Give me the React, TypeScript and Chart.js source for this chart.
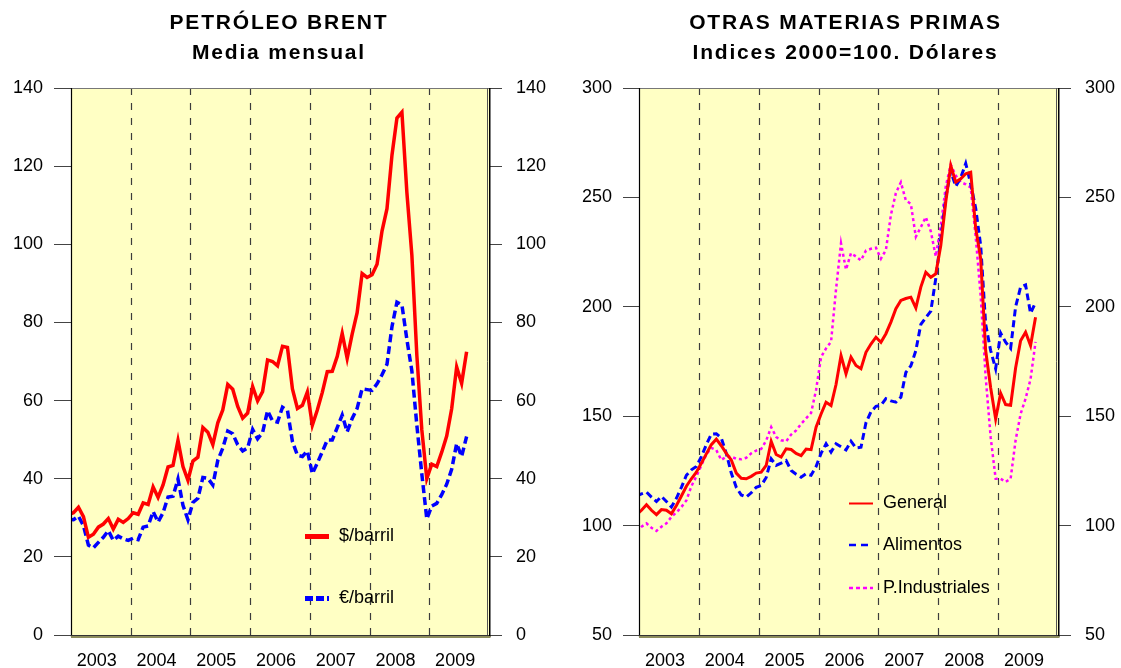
import React, { useEffect, useRef } from 'react';
import { Chart, registerables } from 'chart.js';

Chart.register(...registerables);

// ---------- data (monthly, Dec 2002 .. Aug 2009) ----------
const YEARS = ['2003', '2004', '2005', '2006', '2007', '2008', '2009'];
const YEAR_MID_MONTHS = [6, 18, 30, 42, 54, 66, 78];
const YEAR_START_MONTHS = [12, 24, 36, 48, 60, 72];

const BRENT_USD = [
  30.8,
  31.3, 32.7, 30.3, 25.0, 25.8, 27.6, 28.4, 29.8, 27.1, 29.6, 28.8, 29.8,
  31.3, 30.9, 33.8, 33.4, 37.9, 35.2, 38.4, 43.0, 43.4, 49.8, 43.1, 39.6,
  44.5, 45.5, 53.1, 51.9, 48.7, 54.3, 57.6, 64.1, 62.9, 58.5, 55.5, 56.8,
  63.6, 59.9, 62.3, 70.4, 70.0, 68.9, 73.9, 73.6, 63.0, 58.0, 58.8, 62.2,
  53.7, 57.6, 62.1, 67.4, 67.5, 71.3, 77.2, 70.8, 77.0, 82.5, 92.5, 91.5,
  92.2, 94.9, 103.4, 109.1, 122.8, 132.3, 133.8, 113.2, 97.2, 71.6, 52.5, 40.0,
  43.7, 43.1, 46.8, 50.9, 57.9, 68.6, 64.4, 72.5,
];

const BRENT_EUR = [
  29.6,
  29.5, 30.4, 28.0, 23.0, 22.3, 23.7, 25.0, 26.7, 24.2, 25.3, 24.6, 24.2,
  24.8, 24.4, 27.6, 27.9, 31.6, 28.9, 31.3, 35.3, 35.5, 39.9, 33.2, 29.5,
  33.9, 35.0, 40.3, 40.1, 38.4, 44.7, 47.8, 52.2, 51.5, 48.7, 47.1, 47.9,
  52.6, 50.2, 51.8, 57.4, 54.8, 54.5, 58.3, 57.5, 49.5, 46.0, 45.7, 47.1,
  41.3, 44.0, 46.9, 49.9, 49.9, 53.1, 56.3, 52.0, 55.4, 58.0, 63.0, 62.8,
  62.6, 64.3, 66.6, 69.3, 78.9, 85.2, 84.5, 75.6, 67.6, 53.7, 41.2, 29.7,
  33.0, 33.7, 35.9, 38.6, 42.4, 49.0, 45.7, 50.8,
];

const GENERAL = [
  105.0,
  107.0, 109.5, 107.0, 105.0, 107.3, 107.0, 105.4, 109.2, 113.5, 118.0, 121.4, 124.4,
  128.5, 132.8, 137.0, 139.5, 136.5, 133.0, 130.0, 124.0, 121.6, 121.4, 122.5, 124.0,
  124.4, 127.5, 138.5, 132.5, 131.3, 135.1, 134.8, 133.0, 132.0, 135.0, 134.7, 145.0,
  151.0, 156.4, 154.9, 164.5, 177.7, 169.4, 177.0, 173.2, 171.7, 179.2, 183.0, 186.1,
  183.8, 187.7, 193.0, 199.1, 202.9, 203.8, 204.4, 199.5, 209.0, 215.8, 213.5, 215.1,
  228.0, 248.0, 264.6, 257.0, 258.5, 260.8, 261.5, 236.0, 222.0, 180.0, 163.0, 148.8,
  160.5, 155.3, 155.0, 172.0, 184.5, 188.4, 182.3, 195.2,
];

const ALIMENTOS = [
  113.5,
  114.5, 115.3, 113.0, 111.0, 113.3, 111.0, 108.5, 112.5, 117.5, 123.0, 125.5, 127.0,
  131.5, 137.0, 141.8, 142.0, 140.0, 133.0, 124.0, 117.5, 114.0, 113.0, 115.0, 117.5,
  118.3, 122.0, 130.5, 127.5, 128.5, 129.7, 125.2, 123.5, 122.1, 123.7, 123.0, 127.0,
  133.0, 137.4, 133.6, 137.4, 136.0, 134.6, 138.6, 135.5, 135.8, 147.0, 152.0, 154.5,
  155.0, 158.0, 157.0, 156.4, 158.7, 170.0, 173.0, 180.0, 192.0, 195.0, 198.0, 213.0,
  231.0, 250.0, 262.0, 255.0, 259.0, 265.5, 256.2, 245.0, 228.0, 192.0, 180.0, 171.7,
  188.0, 183.8, 181.0, 200.0, 209.0, 210.0, 197.0, 202.0,
];

const INDUSTRIALES = [
  97.5,
  99.5, 101.0, 99.0, 97.6, 99.5, 101.0, 104.0, 106.0, 108.5, 111.5, 118.0, 122.5,
  127.5, 132.5, 135.5, 134.5, 130.0, 131.5, 131.5, 130.5, 130.3, 131.0, 133.0, 134.3,
  135.0, 138.9, 145.0, 140.5, 139.0, 138.5, 141.6, 143.5, 146.5, 149.0, 151.5, 162.0,
  177.0, 181.0, 184.0, 208.0, 229.0, 217.0, 224.5, 223.0, 221.2, 225.7, 226.5, 227.0,
  222.0, 226.0, 242.0, 252.0, 256.9, 248.6, 247.0, 232.0, 236.4, 241.0, 234.5, 223.0,
  237.0, 255.0, 265.0, 260.0, 257.0, 256.0, 254.5, 232.0, 205.0, 168.0, 140.4, 121.4,
  121.4, 120.0, 121.4, 139.0, 151.0, 158.0, 167.0, 184.0,
];

const BRENT_Y_TICKS = [0, 20, 40, 60, 80, 100, 120, 140];
const INDEX_Y_TICKS = [50, 100, 150, 200, 250, 300];

// ---------- helpers ----------
const FONT = '"Liberation Sans", Arial, Helvetica, sans-serif';

const toPoints = (values: number[]) => values.map((v, i) => ({ x: i - 0.5, y: v }));

const framePlugin = {
  id: 'frame',
  beforeDatasetsDraw(chart: any) {
    const { ctx, chartArea: a, scales } = chart;
    ctx.save();
    ctx.fillStyle = '#FFFFC4';
    ctx.fillRect(a.left, a.top, a.right - a.left, a.bottom - a.top);
    ctx.strokeStyle = '#3c3c3c';
    ctx.lineWidth = 1.2;
    ctx.setLineDash([7, 8]);
    for (const m of YEAR_START_MONTHS) {
      const x = Math.round(scales.x.getPixelForValue(m)) + 0.5;
      ctx.beginPath();
      ctx.moveTo(x, a.top);
      ctx.lineTo(x, a.bottom);
      ctx.stroke();
    }
    ctx.restore();
  },
  afterDatasetsDraw(chart: any) {
    const { ctx, chartArea: a } = chart;
    ctx.save();
    ctx.setLineDash([]);
    // top
    ctx.strokeStyle = '#777';
    ctx.lineWidth = 1;
    ctx.beginPath();
    ctx.moveTo(a.left, a.top + 0.5);
    ctx.lineTo(a.right, a.top + 0.5);
    ctx.stroke();
    // right (double)
    ctx.strokeStyle = '#555';
    ctx.lineWidth = 1;
    ctx.beginPath();
    ctx.moveTo(a.right - 1.5, a.top);
    ctx.lineTo(a.right - 1.5, a.bottom);
    ctx.stroke();
    ctx.strokeStyle = '#000';
    ctx.lineWidth = 1.5;
    ctx.beginPath();
    ctx.moveTo(a.right + 0.75, a.top);
    ctx.lineTo(a.right + 0.75, a.bottom + 2);
    ctx.stroke();
    // left
    ctx.strokeStyle = '#000';
    ctx.lineWidth = 1.2;
    ctx.beginPath();
    ctx.moveTo(a.left + 0.5, a.top);
    ctx.lineTo(a.left + 0.5, a.bottom + 2);
    ctx.stroke();
    // bottom with olive shadow
    ctx.strokeStyle = '#8c8c5c';
    ctx.lineWidth = 2;
    ctx.beginPath();
    ctx.moveTo(a.left, a.bottom + 2);
    ctx.lineTo(a.right + 1.5, a.bottom + 2);
    ctx.stroke();
    ctx.strokeStyle = '#333';
    ctx.lineWidth = 1.2;
    ctx.beginPath();
    ctx.moveTo(a.left, a.bottom + 0.5);
    ctx.lineTo(a.right, a.bottom + 0.5);
    ctx.stroke();
    ctx.restore();
  },
  afterDraw(chart: any, _args: any, opts: any) {
    const { ctx, chartArea: a } = chart;
    ctx.save();
    // titles
    ctx.fillStyle = '#000';
    ctx.font = `bold 21px ${FONT}`;
    (ctx as any).letterSpacing = '1.8px';
    ctx.textAlign = 'center';
    ctx.textBaseline = 'middle';
    const cx = (a.left + a.right) / 2 + (opts.titleShift || 0);
    (opts.title || []).forEach((t: string, i: number) => {
      ctx.fillText(t, cx, 23 + i * 30);
    });
    (ctx as any).letterSpacing = '0px';
    // legend
    ctx.textAlign = 'left';
    ctx.font = `18px ${FONT}`;
    for (const it of opts.legend || []) {
      ctx.strokeStyle = it.color;
      ctx.lineWidth = it.width;
      ctx.setLineDash(it.dash || []);
      ctx.beginPath();
      ctx.moveTo(it.x, it.y);
      ctx.lineTo(it.x + 24, it.y);
      ctx.stroke();
      ctx.setLineDash([]);
      ctx.fillStyle = '#000';
      ctx.fillText(it.label, it.x + 34, it.y);
    }
    ctx.restore();
  },
};

function buildConfig(p: {
  datasets: any[];
  yTicks: number[];
  leftWidth: number;
  rightWidth: number;
  leftTick: number;
  rightTick: number;
  title: string[];
  legend: any[];
  titleShift: number;
}) {
  const yMin = p.yTicks[0];
  const yMax = p.yTicks[p.yTicks.length - 1];
  const step = p.yTicks[1] - p.yTicks[0];
  const tickFont = { family: FONT, size: 18 };
  return {
    type: 'line' as const,
    data: { datasets: p.datasets },
    plugins: [framePlugin],
    options: {
      animation: false as const,
      responsive: false,
      devicePixelRatio: 1,
      events: [],
      layout: { padding: { top: 88, left: 0, right: 0, bottom: 0 } },
      elements: { point: { radius: 0 }, line: { tension: 0 } },
      plugins: {
        legend: { display: false },
        tooltip: { enabled: false },
        title: { display: false },
        frame: { title: p.title, legend: p.legend, titleShift: p.titleShift },
      },
      scales: {
        x: {
          type: 'linear' as const,
          min: 0,
          max: 84,
          afterFit: (s: any) => { s.height = 33; },
          afterBuildTicks: (s: any) => { s.ticks = YEAR_MID_MONTHS.map((v) => ({ value: v })); },
          grid: { display: false, drawTicks: false },
          border: { display: false },
          ticks: {
            autoSkip: false,
            maxRotation: 0,
            padding: 15,
            labelOffset: -4,
            color: '#000',
            font: tickFont,
            callback: (_v: any, i: number) => YEARS[i],
          },
        },
        y: {
          position: 'left' as const,
          min: yMin,
          max: yMax,
          afterFit: (s: any) => { s.width = p.leftWidth; },
          grid: { drawOnChartArea: false, drawTicks: true, tickLength: p.leftTick, color: '#444' },
          border: { display: false },
          ticks: { stepSize: step, padding: 11, color: '#000', font: tickFont },
        },
        y2: {
          position: 'right' as const,
          min: yMin,
          max: yMax,
          afterFit: (s: any) => { s.width = p.rightWidth; },
          grid: { drawOnChartArea: false, drawTicks: true, tickLength: p.rightTick, color: '#444' },
          border: { display: false },
          ticks: { stepSize: step, padding: 14, color: '#000', font: tickFont },
        },
      },
    },
  };
}

function leftConfig() {
  return buildConfig({
    datasets: [
      {
        label: '$/barril',
        data: toPoints(BRENT_USD),
        borderColor: '#FF0000',
        borderWidth: 3.5,
        clip: 0,
        yAxisID: 'y',
      },
      {
        label: '€/barril',
        data: toPoints(BRENT_EUR),
        borderColor: '#0000FF',
        borderWidth: 3.5,
        borderDash: [8, 4],
        clip: 0,
        yAxisID: 'y',
      },
    ],
    yTicks: BRENT_Y_TICKS,
    leftWidth: 71,
    rightWidth: 71,
    leftTick: 17,
    rightTick: 13,
    title: ['PETRÓLEO BRENT', 'Media mensual'],
    titleShift: -1,
    legend: [
      { label: '$/barril', color: '#FF0000', width: 5, dash: [], x: 305, y: 536.5 },
      { label: '€/barril', color: '#0000FF', width: 5, dash: [8, 3], x: 305, y: 598.5 },
    ],
  });
}

function rightConfig() {
  return buildConfig({
    datasets: [
      {
        label: 'General',
        data: toPoints(GENERAL),
        borderColor: '#FF0000',
        borderWidth: 3,
        clip: 0,
        yAxisID: 'y',
      },
      {
        label: 'Alimentos',
        data: toPoints(ALIMENTOS),
        borderColor: '#0000FF',
        borderWidth: 3,
        borderDash: [7, 4],
        clip: 0,
        yAxisID: 'y',
      },
      {
        label: 'P.Industriales',
        data: toPoints(INDUSTRIALES),
        borderColor: '#FF00FF',
        borderWidth: 2.5,
        borderDash: [3, 3],
        clip: 0,
        yAxisID: 'y',
      },
    ],
    yTicks: INDEX_Y_TICKS,
    leftWidth: 79,
    rightWidth: 63,
    leftTick: 16,
    rightTick: 13,
    title: ['OTRAS MATERIAS PRIMAS', 'Indices 2000=100. Dólares'],
    titleShift: -3,
    legend: [
      { label: 'General', color: '#FF0000', width: 2, dash: [], x: 289, y: 503.5 },
      { label: 'Alimentos', color: '#0000FF', width: 2.5, dash: [7, 5], x: 289, y: 545 },
      { label: 'P.Industriales', color: '#FF00FF', width: 2.5, dash: [4, 3], x: 289, y: 588 },
    ],
  });
}

export default function App() {
  const leftRef = useRef<HTMLCanvasElement>(null);
  const rightRef = useRef<HTMLCanvasElement>(null);

  useEffect(() => {
    const c1 = new Chart(leftRef.current as HTMLCanvasElement, leftConfig() as any);
    const c2 = new Chart(rightRef.current as HTMLCanvasElement, rightConfig() as any);
    return () => {
      c1.destroy();
      c2.destroy();
    };
  }, []);

  return (
    <div style={{ position: 'fixed', left: 0, top: 0, width: 1121, height: 668, background: '#fff' }}>
      <canvas ref={leftRef} width={560} height={668} style={{ position: 'absolute', left: 0, top: 0 }} />
      <canvas ref={rightRef} width={561} height={668} style={{ position: 'absolute', left: 560, top: 0 }} />
    </div>
  );
}
